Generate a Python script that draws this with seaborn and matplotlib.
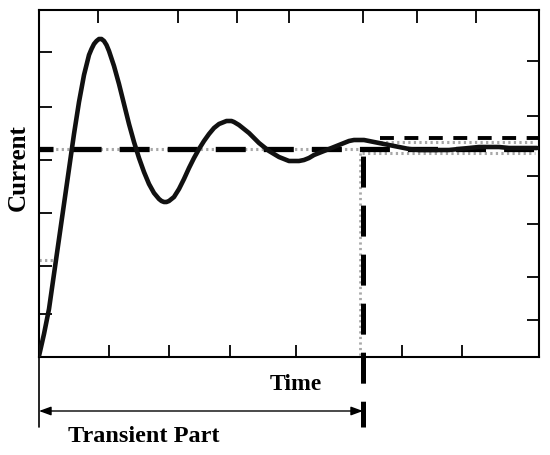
import matplotlib
matplotlib.use("Agg")
import matplotlib.pyplot as plt
from matplotlib.ticker import FixedLocator, NullFormatter
import seaborn as sns
import pandas as pd

# ---- data (arbitrary units) ----
time = [0, 1, 2, 3, 4, 5, 6, 7, 8, 9, 10, 10.5, 11, 11.5, 12, 12.5, 13, 13.5, 14, 15, 16, 17, 18, 19,
        20, 21, 22, 23, 24, 24.5, 25, 25.5, 26, 27, 28, 29, 30, 31, 32, 33, 34, 35, 36, 37, 37.5, 38, 38.5, 39,
        40, 41, 42, 43, 44, 45, 46, 47, 48, 49, 50, 51, 52, 53, 54, 55, 56, 57, 58, 59,
        60, 61, 62, 63, 64, 65, 66, 67, 68, 69, 70, 71, 72, 73, 74, 76, 78, 80, 82, 84,
        86, 88, 90, 92, 94, 96, 98, 99.6]
current = [1, 23, 48, 83, 118, 153, 188, 223, 255, 282, 302, 308, 313, 316, 318, 318, 316, 312, 306, 291, 273, 253, 233, 215,
           199, 185, 173, 164, 158, 156, 155, 155, 156, 160, 168, 178, 189, 199, 208, 216, 223, 229, 233, 235, 236, 236, 236, 235,
           232, 228, 224, 219, 214, 210, 206, 203, 200, 198, 196, 196, 196, 197, 199, 202, 204, 206, 208, 210,
           212, 214, 216, 217, 217, 217, 216, 215, 214, 213, 212, 211, 210, 209, 208, 207, 207, 207, 207, 208,
           209, 210, 210, 210, 209, 209, 209, 209]

steady_level = 208
upper_level = 219
upper_ref_level = 215
lower_ref_level = 204
low_marker_level = 97
transient_end = 64.8

bottom_ticks = [14, 26, 38.2, 51.4, 72.6, 84.6]
top_ticks = [11.8, 27.8, 39.6, 50, 64.8, 75.6, 87.4]
left_ticks = [305, 250, 197, 144, 91, 43]
right_ticks = [296, 241, 181, 133, 80, 37]

x_label = "Time"
y_label = "Current"
span_label = "Transient Part"

# ---- figure ----
sns.set_style("white")
plt.rcParams['font.family'] = ['Liberation Serif', 'DejaVu Serif']
plt.rcParams['lines.scale_dashes'] = False
plt.rcParams['text.color'] = 'black'

fig = plt.figure(figsize=(5.5, 4.56), dpi=100)
ax = fig.add_axes([39/550, 98/456, 500/550, 347/456])
ax.set_xlim(0, 100)
ax.set_ylim(0, 347)

gray = "#a8a8a8"
dot = (0, (1.6, 2.4))

# gray reference lines
ax.plot([0, transient_end], [steady_level, steady_level], color=gray, lw=2.2, ls=dot, zorder=1)
ax.plot([transient_end - 0.2, 99.2], [lower_ref_level, lower_ref_level], color=gray, lw=2.2, ls=dot, zorder=1)
ax.plot([68.2, 99.2], [upper_ref_level, upper_ref_level], color=gray, lw=2.2, ls=dot, zorder=1)
ax.plot([transient_end - 0.6, transient_end - 0.6], [lower_ref_level, 0], color=gray, lw=2.0, ls=dot, zorder=1)
ax.plot([0, 3.2], [low_marker_level, low_marker_level], color=gray, lw=2.2, ls=dot, zorder=1)

# steady-state dashed line
ax.plot([0, 100], [steady_level, steady_level], color="black", lw=3.8,
        ls=(11.5, (21.6, 13.0)), solid_capstyle="butt", dash_capstyle="butt", zorder=3)
# upper dashed line
ax.plot([68.2, 100], [upper_level, upper_level], color="black", lw=2.8,
        ls=(0, (10.0, 7.6)), dash_capstyle="butt", zorder=3)

# response curve
df = pd.DataFrame({"time": time, "current": current})
sns.lineplot(data=df, x="time", y="current", ax=ax, color="#111111", lw=3.3,
             sort=False, estimator=None, zorder=4,
             solid_joinstyle="round", solid_capstyle="round")

# vertical dashed line marking end of transient
ax.plot([transient_end, transient_end], [steady_level, -70], color="black", lw=3.6,
        ls=(30.2, (22.3, 13.0)), dash_capstyle="butt", clip_on=False, zorder=5)

# left boundary below the axis
ax.plot([0, 0], [0, -70], color="black", lw=1.2, clip_on=False)
# double arrow
ax.annotate("", xy=(0, -54), xytext=(transient_end, -54), xycoords="data",
            arrowprops=dict(arrowstyle="<|-|>,head_length=0.6,head_width=0.22",
                            color="black", lw=1.0, shrinkA=0, shrinkB=0,
                            mutation_scale=12),
            annotation_clip=False)

ax.set_xlabel("")
ax.set_ylabel("")
ax.text(51.4, -27, x_label, ha="center", va="center", fontsize=17,
        fontweight="bold", color="black", clip_on=False)
ax.text(21, -79, span_label, ha="center", va="center", fontsize=17.5,
        fontweight="bold", color="black", clip_on=False)
fig.text(18/550, 1 - 168/456, y_label, rotation=90, ha="center", va="center",
         fontsize=18, fontweight="bold", color="black",
         family=['Liberation Serif', 'DejaVu Serif'])

# ticks: major on bottom/left, minor on top/right
ax.xaxis.set_major_locator(FixedLocator(bottom_ticks))
ax.xaxis.set_minor_locator(FixedLocator(top_ticks))
ax.yaxis.set_major_locator(FixedLocator(left_ticks))
ax.yaxis.set_minor_locator(FixedLocator(right_ticks))
ax.xaxis.set_major_formatter(NullFormatter())
ax.xaxis.set_minor_formatter(NullFormatter())
ax.yaxis.set_major_formatter(NullFormatter())
ax.yaxis.set_minor_formatter(NullFormatter())
ax.tick_params(which="major", direction="in", length=9, width=1.3, color="black",
               bottom=True, top=False, left=True, right=False)
ax.tick_params(which="minor", direction="in", length=9, width=1.3, color="black",
               bottom=False, top=True, left=False, right=True)
for s in ax.spines.values():
    s.set_visible(True)
    s.set_color("black")
    s.set_linewidth(1.5)

fig.savefig("out.png", dpi=100, facecolor="white")
